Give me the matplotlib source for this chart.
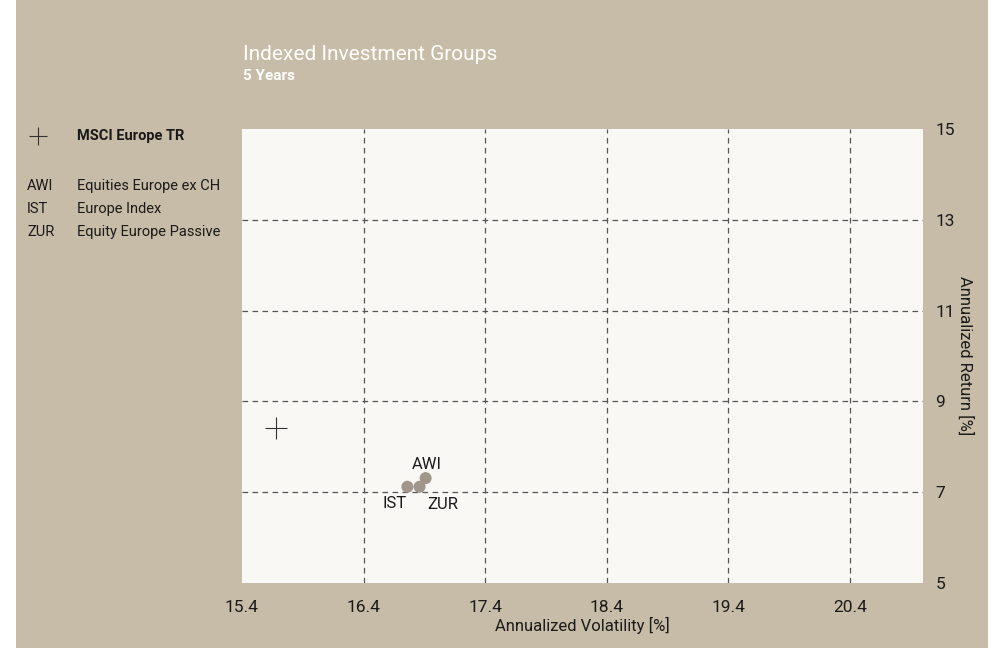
import matplotlib
matplotlib.use("Agg")
import matplotlib.pyplot as plt
from matplotlib.patches import Rectangle
from matplotlib.lines import Line2D

plt.rcParams['font.family'] = ['Roboto', 'DejaVu Sans']

# ---- data ----
title = "Indexed Investment Groups"
subtitle = "5 Years"
benchmark_name = "MSCI Europe TR"
benchmark_vol = [15.68]
benchmark_ret = [8.41]
codes = ["AWI", "IST", "ZUR"]
names = ["Equities Europe ex CH", "Europe Index", "Equity Europe Passive"]
vols = [16.91, 16.76, 16.86]
rets = [7.31, 7.12, 7.12]
x_ticks = [15.4, 16.4, 17.4, 18.4, 19.4, 20.4]
y_ticks = [5, 7, 9, 11, 13, 15]
x_label = "Annualized Volatility [%]"
y_label = "Annualized Return [%]"

W, H = 995, 648
TAN = "#c7bca7"
PLOT_BG = "#f9f8f5"
DOT = "#a0978a"
TXT = "#1a1a1a"

fig = plt.figure(figsize=(W / 100, H / 100), dpi=100, facecolor="white")
fig.patches.append(Rectangle((16 / W, 0), 972 / W, 1, transform=fig.transFigure,
                             facecolor=TAN, edgecolor="none", zorder=-10))

def fx(px):
    return px / W

def fy(py):
    return 1 - py / H

ax = fig.add_axes([fx(242), fy(583), fx(923) - fx(242), fy(129) - fy(583)])
ax.set_facecolor(PLOT_BG)
for s in ax.spines.values():
    s.set_visible(False)

ax.set_xlim(15.4, 21.0)
ax.set_ylim(5, 15)
ax.set_xticks(x_ticks)
ax.set_xticklabels([f"{v:.1f}" for v in x_ticks])
ax.set_yticks(y_ticks)
ax.set_yticklabels([str(v) for v in y_ticks])
ax.yaxis.tick_right()
ax.yaxis.set_label_position("right")
ax.tick_params(axis="both", length=0, labelsize=12.5, colors=TXT)
ax.tick_params(axis="x", pad=12)
ax.tick_params(axis="y", pad=9)
ax.grid(True, color="#555555", linestyle=(0, (4.5, 3.5)), linewidth=0.9)
ax.set_axisbelow(True)
# no grid lines on the plot edges
for t, v in zip(ax.xaxis.get_major_ticks(), x_ticks):
    if v <= 15.4:
        t.gridline.set_visible(False)
for t, v in zip(ax.yaxis.get_major_ticks(), y_ticks):
    if v <= 5 or v >= 15:
        t.gridline.set_visible(False)

ax.set_xlabel(x_label, fontsize=12, color=TXT, labelpad=2)
ax.set_ylabel(y_label, fontsize=12, color=TXT, rotation=270, labelpad=13)

ax.plot(benchmark_vol, benchmark_ret, marker="+", markersize=16, markeredgewidth=0.8,
        color="#333333", linestyle="none", zorder=3)
ax.scatter(vols, rets, s=75, color=DOT, edgecolors="none", zorder=3)

offsets = {"AWI": (1, 10), "IST": (-9, -12), "ZUR": (16.5, -13)}
for c, x, y in zip(codes, vols, rets):
    dx, dy = offsets[c]
    ax.annotate(c, (x, y), xytext=(dx, dy), textcoords="offset points",
                ha="center", va="center", fontsize=12, color=TXT)

fig.text(fx(243), fy(55), title, fontsize=15, color="white", ha="left", va="center")
fig.text(fx(243), fy(76), subtitle, fontsize=11, color="white", ha="left", va="center",
         fontweight="bold")

# legend
fig.add_artist(Line2D([fx(38)], [fy(136)], marker="+", markersize=13, markeredgewidth=0.8,
                      color="#333333", linestyle="none", transform=fig.transFigure))
fig.text(fx(77), fy(136), benchmark_name, fontsize=10.5, color=TXT, ha="left", va="center",
         fontweight="bold")
for i, (c, n) in enumerate(zip(codes, names)):
    yy = 186 + i * 23
    fig.text(fx(27), fy(yy), c, fontsize=10.5, color=TXT, ha="left", va="center")
    fig.text(fx(77), fy(yy), n, fontsize=10.5, color=TXT, ha="left", va="center")

fig.savefig("out.png", dpi=100, facecolor=fig.get_facecolor())
